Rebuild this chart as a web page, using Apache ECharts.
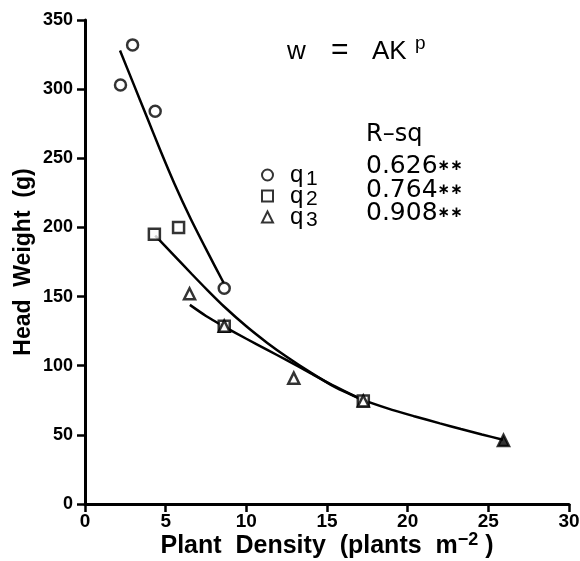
<!DOCTYPE html>
<html>
<head>
<meta charset="utf-8">
<script src="https://cdn.jsdelivr.net/npm/echarts@6/dist/echarts.min.js"></script>
<style>
  html, body { margin: 0; padding: 0; background: #fff; }
  #chart { width: 580px; height: 561px; }
</style>
</head>
<body>
<div id="chart"></div>
<script>
// observed points (density, head weight)
var densQ1 = [2.2, 2.95, 4.35, 8.63];
var wtQ1 = [303, 332, 284, 156];
var densQ2 = [4.3, 5.8, 8.63, 17.25];
var wtQ2 = [195, 200, 128.6, 74.5];
var densQ3 = [6.48, 8.63, 12.94, 17.25, 25.94];
var wtQ3 = [152, 128.6, 91, 74.5, 46];

// fitted curves
var fitQ1X = [2.17, 3.0, 3.83, 4.66, 5.53, 6.52, 7.56, 8.59];
var fitQ1Y = [328, 304, 280, 256, 232, 207, 183, 160];
var fitQ2X = [4.35, 5.5, 6.6, 7.6, 8.6, 10.0, 11.3, 12.5, 14.0, 15.5, 17.25];
var fitQ2Y = [194, 180, 166.5, 154.5, 143, 128.5, 116.5, 106.5, 95, 84.5, 75];
var fitQ3X = [6.5, 7.5, 8.6, 10.0, 11.3, 12.5, 14.0, 15.5, 17.2, 18.8, 20.4, 22.0, 23.3, 24.6, 25.9];
var fitQ3Y = [144, 136, 128.5, 119.5, 111.5, 104, 94.5, 85, 75.5, 69, 63.5, 58.3, 54.2, 50.3, 46.5];

var groupNames = ['q1', 'q2', 'q3'];
var rsqValues = ['0.626', '0.764', '0.908'];

function zip(xs, ys) {
    return xs.map(function (x, i) { return [x, ys[i]]; });
}

var FONT = 'Liberation Sans';
var WIDE = 'DejaVu Sans';
var chart = echarts.init(document.getElementById('chart'));

var markerStyle = { color: '#fff', borderColor: '#000', borderWidth: 2.5 };
var curveStyle = { color: '#000', width: 2.5 };

var q3Data = zip(densQ3, wtQ3);
// last triangle is drawn solid in the figure
q3Data[q3Data.length - 1] = { value: q3Data[q3Data.length - 1], itemStyle: { color: '#000' } };

// annotation text: formula, R-sq column, legend subscripts
var graphics = [
    { type: 'text', x: 287, y: 52, style: { text: 'w', font: '26px ' + FONT, fill: '#000', verticalAlign: 'middle' } },
    { type: 'text', x: 331, y: 51, style: { text: '=', font: '30px ' + FONT, fill: '#000', verticalAlign: 'middle' } },
    { type: 'text', x: 372, y: 52, style: { text: 'AK', font: '26px ' + FONT, fill: '#000', verticalAlign: 'middle' } },
    { type: 'text', x: 415, y: 44, style: { text: 'p', font: '19px ' + FONT, fill: '#000', verticalAlign: 'middle' } },
    { type: 'text', x: 366, y: 135, style: { text: 'R\u2013sq', font: '24px ' + WIDE, fill: '#000', verticalAlign: 'middle' } }
];
var rowY = [166, 190, 213];
rsqValues.forEach(function (v, i) {
    graphics.push({
        type: 'text', x: 366, y: rowY[i],
        style: {
            text: '{n|' + v + '}{a|\u2217\u2217}',
            verticalAlign: 'middle',
            rich: {
                n: { font: '25px ' + WIDE, fill: '#000' },
                a: { font: 'bold 15px ' + WIDE, fill: '#000' }
            }
        }
    });
});
var subY = [179, 199, 220];
groupNames.forEach(function (n, i) {
    graphics.push({
        type: 'text', x: 306, y: subY[i],
        style: { text: n.slice(1), font: '21px ' + FONT, fill: '#000', verticalAlign: 'middle' }
    });
});

var option = {
    backgroundColor: '#fff',
    animation: false,
    grid: { left: 85, right: 11, top: 20, bottom: 57, outerBoundsMode: 'none' },
    xAxis: {
        type: 'value', min: 0, max: 30, interval: 5,
        name: 'Plant  Density  (plants  m{sup|\u22122} )',
        nameLocation: 'middle', nameGap: 27, nameMoveOverlap: false,
        nameTextStyle: {
            fontFamily: FONT, fontSize: 25, fontWeight: 'bold', color: '#000',
            rich: { sup: { fontFamily: FONT, fontSize: 18, fontWeight: 'bold', color: '#000', padding: [0, 0, 12, 0] } }
        },
        axisLine: { lineStyle: { color: '#000', width: 3 } },
        axisTick: { inside: false, length: 8, lineStyle: { color: '#000', width: 2.5 } },
        axisLabel: { margin: 8, fontFamily: FONT, fontSize: 19, fontWeight: 'bold', color: '#000' },
        splitLine: { show: false }
    },
    yAxis: {
        type: 'value', min: 0, max: 350, interval: 50,
        name: 'Head  Weight  (g)',
        nameLocation: 'middle', nameGap: 50, nameRotate: 90, nameMoveOverlap: false,
        nameTextStyle: { fontFamily: FONT, fontSize: 23, fontWeight: 'bold', color: '#000' },
        axisLine: { lineStyle: { color: '#000', width: 3 } },
        axisTick: { inside: false, length: 8, lineStyle: { color: '#000', width: 2.5 } },
        axisLabel: { margin: 12, fontFamily: FONT, fontSize: 18, fontWeight: 'bold', color: '#000' },
        splitLine: { show: false }
    },
    legend: {
        data: groupNames,
        orient: 'vertical',
        left: 256, top: 158,
        itemWidth: 11, itemHeight: 11,
        itemGap: -3,
        formatter: function (name) { return name.charAt(0); },
        textStyle: { fontFamily: FONT, fontSize: 24, color: '#000', padding: [0, 0, 0, 12] }
    },
    graphic: graphics,
    series: [
        { name: 'fit1', type: 'line', data: zip(fitQ1X, fitQ1Y), smooth: 0.25, showSymbol: false, lineStyle: curveStyle, z: 1 },
        { name: 'fit2', type: 'line', data: zip(fitQ2X, fitQ2Y), smooth: 0.25, showSymbol: false, lineStyle: curveStyle, z: 1 },
        { name: 'fit3', type: 'line', data: zip(fitQ3X, fitQ3Y), smooth: 0.25, showSymbol: false, lineStyle: curveStyle, z: 1 },
        { name: 'q1', type: 'scatter', symbol: 'circle', symbolSize: 11, data: zip(densQ1, wtQ1), itemStyle: markerStyle, z: 3 },
        { name: 'q2', type: 'scatter', symbol: 'rect', symbolSize: 11, data: zip(densQ2, wtQ2), itemStyle: markerStyle, z: 3 },
        { name: 'q3', type: 'scatter', symbol: 'triangle', symbolSize: 11, data: q3Data, itemStyle: markerStyle, z: 4 }
    ]
};

chart.setOption(option);
</script>
</body>
</html>
